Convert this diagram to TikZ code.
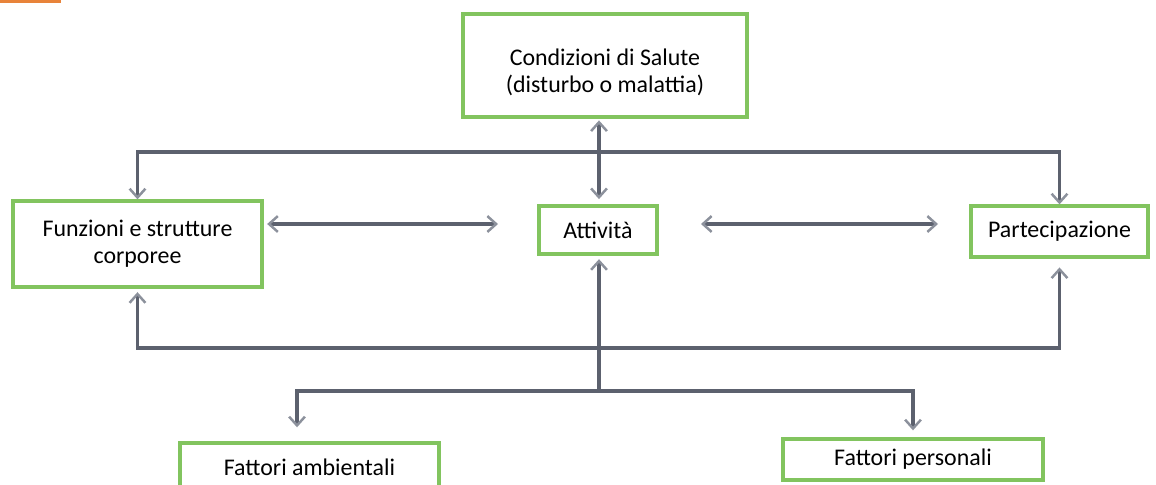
\documentclass[tikz,border=0pt]{standalone}
\usepackage{fontspec}
\setmainfont{Carlito}
\usetikzlibrary{arrows.meta}
\definecolor{boxgreen}{RGB}{130,196,95}
\definecolor{linegray}{RGB}{92,97,110}
\definecolor{tipgray}{RGB}{140,145,156}
\definecolor{barorange}{RGB}{232,131,58}
\tikzset{
  boxtext/.style={align=center, inner sep=0pt, font=\fontsize{13.6}{15.4}\selectfont},
  box/.style={boxtext, draw=boxgreen, line width=1.9pt, fill=white},
  conn/.style={draw=linegray, line width=2.2pt,
    arrows={-{Straight Barb[length=5pt,width=9pt,line width=1.4pt,color=tipgray]}}},
  twoway/.style={conn, arrows={{Straight Barb[length=5pt,width=9pt,line width=1.4pt,color=tipgray]}-{Straight Barb[length=5pt,width=9pt,line width=1.4pt,color=tipgray]}}}
}

\begin{document}
\begin{tikzpicture}[x=0.02cm,y=-0.02cm]
    \clip (0,0) rectangle (1156,484);
    \fill[white] (0,0) rectangle (1156,484);
    \fill[barorange] (0,0) rectangle (61,3);

    \node[box, minimum width=284*0.02cm, minimum height=103*0.02cm] (cond) at (605,65.5) {};
    \node[boxtext] (condtext) at (605,72) {Condizioni di Salute\\(disturbo o malattia)};
    \node[box, minimum width=249*0.02cm, minimum height=86*0.02cm] (funz) at (137.5,244) {Funzioni e strutture\\corporee};
    \node[box, minimum width=118*0.02cm, minimum height=48*0.02cm] (att) at (598,230) {Attività};
    \node[box, minimum width=177*0.02cm, minimum height=51*0.02cm] (part) at (1059.5,231.5) {Partecipazione};
    \node[box, minimum width=259*0.02cm, minimum height=48*0.02cm] (amb) at (309.5,467) {Fattori ambientali};
    \node[box, minimum width=260*0.02cm, minimum height=41*0.02cm] (pers) at (913,459.5) {Fattori personali};

    \coordinate (topbar) at (599,152);
    \coordinate (lowbar) at (599,348);
    \coordinate (split) at (599,391);
    \coordinate (fa) at (498,224);
    \coordinate (ap) at (701,224);
    \coordinate (pa) at (938,224);

    \draw[twoway, shorten <=1pt, shorten >=3pt] (cond.south -| topbar) -- (att.north -| topbar);
    \draw[conn] (topbar) -| (funz.north);
    \draw[conn] (topbar) -| (part.north);

    \draw[twoway, shorten <=2pt] (funz.east |- fa) -- (fa);
    \draw[twoway] (ap) -- (pa);

    \draw[conn] (lowbar) -| ([shift={(0,-2pt)}]funz.south);
    \draw[conn, shorten >=5pt] (lowbar) -| (part.south);
    \draw[conn, shorten >=2pt] (split) -- (att.south -| split);
    \draw[conn, shorten >=8pt] (split) -| ([xshift=-0.25cm]amb.north);
    \draw[conn, shorten >=4pt] (split) -| (pers.north);
  \end{tikzpicture}
\end{document}
